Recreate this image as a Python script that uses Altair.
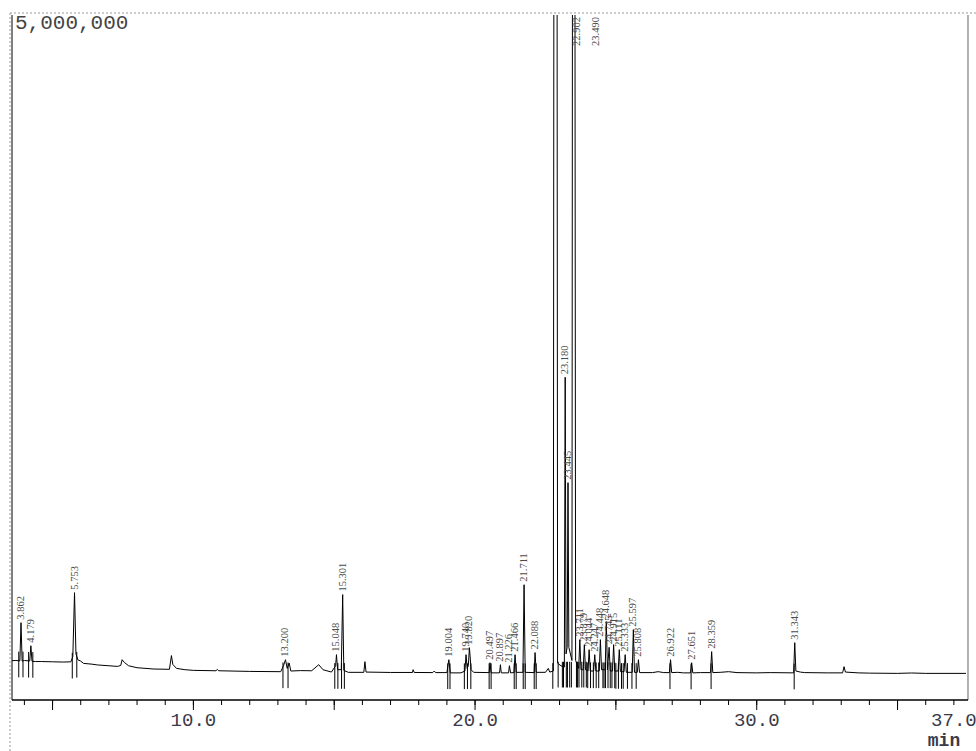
import altair as alt
import pandas as pd

# ---- chromatogram trace (time in min, detector signal) ----
trace_time = [
    3.56, 3.70, 3.84, 3.88, 3.92, 4.00, 4.19, 4.23, 4.27, 4.40, 4.60, 5.00, 5.40,
    5.65, 5.72, 5.78, 5.83, 5.90, 6.00, 6.10, 6.40, 6.60, 7.00, 7.30, 7.42, 7.47,
    7.55, 7.70, 8.00, 8.60, 9.15, 9.22, 9.27, 9.40, 9.70, 10.00, 10.80, 10.85,
    10.90, 12.00, 13.10, 13.20, 13.27, 13.33, 13.40, 13.46, 13.80, 14.20, 14.45,
    14.60, 14.90, 15.05, 15.08, 15.12, 15.25, 15.30, 15.34, 15.50, 16.05, 16.09,
    16.13, 17.00, 17.78, 17.80, 17.84, 18.50, 18.55, 18.60, 19.00, 19.07, 19.12,
    19.50, 19.64, 19.68, 19.72, 19.76, 19.80, 19.86, 19.95, 20.50, 20.53, 20.57,
    20.87, 20.90, 20.93, 21.19, 21.22, 21.26, 21.38, 21.42, 21.46, 21.70, 21.74,
    21.78, 22.10, 22.13, 22.17, 22.50, 22.60, 22.65, 22.78, 22.81, 22.90, 22.93,
    23.05, 23.17, 23.20, 23.23, 23.27, 23.30, 23.33, 23.44, 23.47, 23.53, 23.57,
    23.68, 23.72, 23.76, 23.84, 23.88, 23.92, 24.01, 24.05, 24.09, 24.21, 24.25,
    24.29, 24.41, 24.45, 24.49, 24.62, 24.66, 24.70, 24.76, 24.80, 24.88, 24.92,
    24.96, 25.08, 25.12, 25.16, 25.29, 25.33, 25.37, 25.58, 25.62, 25.66, 25.76,
    25.80, 25.84, 26.30, 26.50, 26.70, 26.90, 26.94, 26.98, 27.20, 27.40, 27.65,
    27.69, 27.73, 28.00, 28.36, 28.40, 28.44, 28.70, 29.00, 29.30, 30.00, 30.50,
    31.31, 31.35, 31.39, 31.55, 31.70, 32.50, 33.05, 33.10, 33.15, 33.60, 34.00,
    35.00, 35.50, 36.00, 37.43,
]
trace_signal = [
    99000, 100000, 97000, 387000, 95000, 100000, 96000, 212000, 94000, 92000, 92000, 90000, 88000,
    90000, 130000, 615000, 150000, 105000, 95000, 78000, 72000, 66000, 60000, 55000, 62000, 106000,
    85000, 60000, 45000, 35000, 33000, 137000, 70000, 40000, 30000, 25000, 22000, 32000,
    22000, 17000, 15000, 60000, 106000, 40000, 80000, 20000, 23000, 22000, 68000,
    30000, 12000, 60000, 144000, 30000, 30000, 600000, 25000, 10000, 10000, 91000,
    12000, 9000, 9000, 30000, 9000, 8000, 20000, 8000, 8000, 106000, 6000,
    6000, 20000, 144000, 40000, 60000, 197000, 30000, 10000, 8000, 83000, 6000,
    6000, 68000, 6000, 6000, 60000, 6000, 8000, 144000, 10000, 10000, 675000,
    10000, 8000, 160000, 10000, 10000, 40000, 12000, 20000, 9000000, 9000000, 80000,
    60000, 50000, 2250000, 150000, 200000, 1450000, 200000, 100000, 9000000, 9000000, 100000,
    40000, 258000, 30000, 30000, 220000, 30000, 20000, 182000, 20000, 20000, 144000,
    20000, 20000, 258000, 30000, 30000, 395000, 30000, 200000, 20000, 20000, 220000,
    20000, 20000, 182000, 15000, 15000, 144000, 10000, 10000, 334000, 10000, 10000,
    106000, 8000, 8000, 15000, 8000, 8000, 106000, 8000, 10000, 6000, 6000,
    83000, 6000, 8000, 8000, 167000, 8000, 10000, 15000, 8000, 6000, 8000,
    6000, 235000, 20000, 12000, 8000, 6000, 6000, 53000, 12000, 6000, 4000,
    2000, 5000, 2000, 2000,
]

# ---- labelled peaks ----
peak_labels = ["3.862", "4.179", "5.753", "13.200", "15.048", "15.301", "19.004", "19.740",
               "19.820", "20.497", "20.897", "21.226", "21.466", "21.711", "22.088", "23.180",
               "23.445", "23.711", "23.879", "24.044", "24.247", "24.448", "24.648", "24.745",
               "24.915", "25.111", "25.333", "25.597", "25.808", "26.922", "27.651", "28.359",
               "31.343"]
peak_time = [3.88, 4.23, 5.78, 13.27, 15.08, 15.30, 19.07, 19.68,
             19.80, 20.53, 20.90, 21.22, 21.42, 21.74, 22.13, 23.20,
             23.30, 23.72, 23.88, 24.05, 24.25, 24.45, 24.66, 24.76,
             24.92, 25.12, 25.33, 25.62, 25.80, 26.94, 27.69, 28.40,
             31.35]
peak_height = [387000, 212000, 615000, 106000, 144000, 600000, 106000, 144000,
               197000, 83000, 68000, 60000, 144000, 675000, 160000, 2250000,
               1450000, 258000, 220000, 182000, 144000, 258000, 395000, 200000,
               220000, 182000, 144000, 334000, 106000, 106000, 83000, 167000,
               235000]

# off-scale peaks (labels printed at the top)
top_labels = ["22.902", "23.490"]
top_time = [22.855, 23.50]

# integration markers (time, baseline signal)
marker_time = [3.80, 3.95, 4.15, 4.30, 5.70, 5.86, 13.18, 13.36, 15.02, 15.13, 15.26, 15.36,
               19.03, 19.11, 19.62, 19.73, 19.85, 20.50, 20.57, 21.39, 21.46, 21.71, 21.78,
               22.10, 22.17, 22.76, 22.95, 23.10, 23.14, 23.24, 23.28, 23.36, 23.42, 23.60,
               23.64, 23.69, 23.79, 23.86, 23.95, 24.00, 24.10, 24.20, 24.30, 24.39, 24.54,
               24.58, 24.63, 24.72, 24.80, 24.86, 24.96, 25.00, 25.09, 25.20, 25.26, 25.41,
               25.57, 25.72, 26.92, 27.67, 28.38, 31.33]
marker_base = [97000, 97000, 95000, 94000, 88000, 95000, 15000, 15000, 10000, 10000, 10000, 10000,
               8000, 8000, 8000, 8000, 8000, 8000, 8000, 8000, 8000, 8000, 8000,
               8000, 8000, 10000, 20000, 20000, 20000, 20000, 20000, 20000, 20000, 20000,
               20000, 20000, 20000, 20000, 20000, 15000, 15000, 15000, 15000, 15000, 15000,
               15000, 15000, 15000, 15000, 15000, 15000, 10000, 10000, 10000, 10000, 10000,
               10000, 10000, 8000, 6000, 8000, 6000]

minor_ticks = list(range(4, 38))
major_ticks = [5, 10, 15, 20, 25, 30, 35]
axis_label_values = [10, 20, 30, 37]

X_DOMAIN = [3.56, 37.43]
Y_DOMAIN = [-200000, 5000000]

W, H = 954, 685
LABEL_FONT = "Liberation Mono"
PEAK_FONT = "Liberation Serif"

x_scale = alt.Scale(domain=X_DOMAIN, nice=False, zero=False)
y_scale = alt.Scale(domain=Y_DOMAIN, nice=False, zero=False)

trace_df = pd.DataFrame({"t": trace_time, "v": trace_signal})
peak_df = pd.DataFrame({"label": peak_labels, "t": peak_time, "h": peak_height})
top_df = pd.DataFrame({"label": top_labels, "t": top_time})
marker_df = pd.DataFrame({"t": marker_time, "base": marker_base})
marker_df["lo"] = marker_df["base"] - 125000
marker_df["hi"] = marker_df["base"] + 70000
minor_df = pd.DataFrame({"t": minor_ticks})
major_df = pd.DataFrame({"t": major_ticks})
label_df = pd.DataFrame({"t": axis_label_values})
one = pd.DataFrame({"a": [0]})


def X(field):
    return alt.X(field, scale=x_scale, axis=None)


def Y(field):
    return alt.Y(field, scale=y_scale, axis=None)


trace = alt.Chart(trace_df).mark_line(color="black", strokeWidth=1, clip=True).encode(
    x=X("t:Q"), y=Y("v:Q"),
)

markers = alt.Chart(marker_df).mark_rule(color="black", strokeWidth=1, clip=True).encode(
    x=X("t:Q"), y=Y("lo:Q"), y2="hi:Q",
)

peak_text = alt.Chart(peak_df).mark_text(
    angle=270, align="left", baseline="middle", dx=3,
    font=PEAK_FONT, fontSize=10.5, color="#4a4a4a",
).encode(x=X("t:Q"), y=Y("h:Q"), text="label:N")

top_text = alt.Chart(top_df).mark_text(
    angle=270, align="right", baseline="middle", dx=-2, dy=22,
    font=PEAK_FONT, fontSize=10.5, color="#4a4a4a",
).encode(x=X("t:Q"), y=alt.value(0), text="label:N")

minor = alt.Chart(minor_df).mark_rule(color="black", strokeWidth=1).encode(
    x=X("t:Q"), y=alt.value(H), y2=alt.value(H + 5)
)
major = alt.Chart(major_df).mark_rule(color="black", strokeWidth=1).encode(
    x=X("t:Q"), y=alt.value(H), y2=alt.value(H + 10)
)
tick_labels = alt.Chart(label_df).mark_text(
    align="center", baseline="middle", font=LABEL_FONT, fontSize=19, color="#3a3a4a"
).encode(x=X("t:Q"), y=alt.value(H + 20), text=alt.Text("t:Q", format=".1f"))

bottom_line = alt.Chart(one).mark_rule(color="black", strokeWidth=1.3).encode(
    x=alt.value(0), x2=alt.value(W + 2), y=alt.value(H))
left_line = alt.Chart(one).mark_rule(color="black", strokeWidth=1).encode(
    x=alt.value(0), y=alt.value(0), y2=alt.value(H))
left_dotted = alt.Chart(one).mark_rule(color="#999999", strokeWidth=1, strokeDash=[2, 2]).encode(
    x=alt.value(-2), y=alt.value(-2), y2=alt.value(H + 51))
top_dotted = alt.Chart(one).mark_rule(color="#999999", strokeWidth=1, strokeDash=[2, 2]).encode(
    x=alt.value(-2), x2=alt.value(W + 10), y=alt.value(-2))
right_line = alt.Chart(one).mark_rule(color="#888888", strokeWidth=1.3).encode(
    x=alt.value(W + 2), y=alt.value(0), y2=alt.value(H))

scale_text = alt.Chart(one).mark_text(
    align="left", baseline="middle", font=LABEL_FONT, fontSize=21, color="#444444"
).encode(x=alt.value(3), y=alt.value(8), text=alt.value("5,000,000"))

min_text = alt.Chart(one).mark_text(
    align="center", baseline="middle", font=LABEL_FONT, fontSize=18, fontWeight="bold",
    color="#3a3a4a"
).encode(x=alt.value(932), y=alt.value(726), text=alt.value("min"))

chart = alt.layer(
    trace, left_dotted, top_dotted, right_line, left_line, bottom_line, minor, major,
    tick_labels, markers, peak_text, top_text, scale_text, min_text,
).properties(
    width=W, height=H,
    padding={"left": 12, "top": 15, "right": 10, "bottom": 51},
    autosize=alt.AutoSizeParams(type="none"),
    background="white",
).configure_view(stroke=None)

chart.save("out.html", embed_options={"renderer": "svg", "actions": False})
